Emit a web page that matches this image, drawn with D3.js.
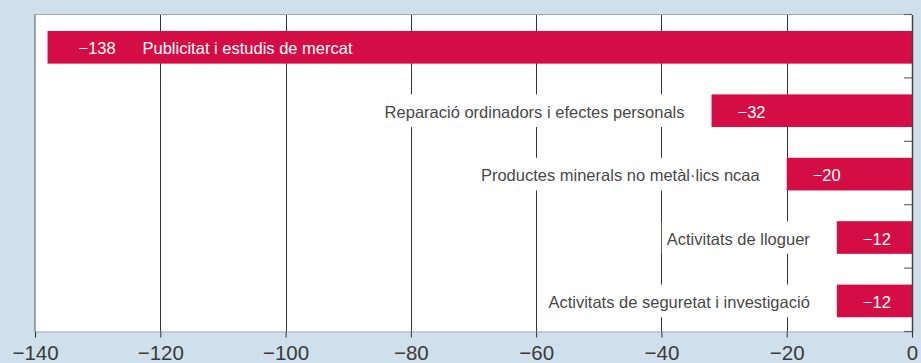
<!DOCTYPE html>
<html><head><meta charset="utf-8">
<script src="https://cdn.jsdelivr.net/npm/d3@7"></script>
<style>
html,body{margin:0;padding:0;background:#cfe0ec;}
svg{display:block;font-family:"Liberation Sans",Arial,sans-serif;}
</style></head>
<body>
<script>
const categories = [
  "Publicitat i estudis de mercat",
  "Reparació ordinadors i efectes personals",
  "Productes minerals no metàl·lics ncaa",
  "Activitats de lloguer",
  "Activitats de seguretat i investigació"
];
const values = [-138, -32, -20, -12, -12];
const tickValues = [-140, -120, -100, -80, -60, -40, -20, 0];

const W = 921, H = 363;
const margin = {left: 35, right: 9, top: 14.5, bottom: 31.5};
const svg = d3.select("body").append("svg").attr("width", W).attr("height", H);
svg.append("rect").attr("width", W).attr("height", H).attr("fill", "#cfe0ec");

const x = d3.scaleLinear().domain([-140, 0]).range([margin.left, W - margin.right]);
const y = d3.scaleBand().domain(categories).range([margin.top, H - margin.bottom]);
const bw = y.bandwidth();
const barOff = bw * 0.26, barH = bw * 0.515;

// plot background
svg.append("rect").attr("x", x(-140)).attr("y", margin.top)
  .attr("width", x(0) - x(-140)).attr("height", H - margin.bottom - margin.top)
  .attr("fill", "#fff");

// gridlines
svg.append("g").selectAll("line").data(tickValues.slice(1, -1)).join("line")
  .attr("x1", d => Math.round(x(d)) + 0.5).attr("x2", d => Math.round(x(d)) + 0.5)
  .attr("y1", margin.top).attr("y2", H - margin.bottom)
  .attr("stroke", "#333").attr("stroke-width", 1);

// borders
svg.append("line").attr("x1", x(-140)).attr("x2", x(0)).attr("y1", margin.top).attr("y2", margin.top)
  .attr("stroke", "#a3abb3").attr("stroke-width", 1.2);
svg.append("line").attr("x1", x(-140)).attr("x2", x(-140)).attr("y1", margin.top).attr("y2", H - margin.bottom)
  .attr("stroke", "#6b6f73").attr("stroke-width", 1.2);

// bottom axis
const xAxis = svg.append("g").attr("transform", `translate(0,${H - margin.bottom})`)
  .call(d3.axisBottom(x).tickValues(tickValues).tickSize(6).tickPadding(8)
    .tickFormat(d => d === 0 ? "0" : "\u2212" + Math.abs(d)));
xAxis.select(".domain").attr("stroke", "#a9adb1").attr("stroke-width", 1.2);
xAxis.selectAll(".tick line").attr("stroke", "#333");
xAxis.selectAll(".tick text").attr("font-size", 20.5).attr("fill", "#3a3a3a")
  .attr("font-family", "'Liberation Sans',Arial,sans-serif");

// bars
const rows = categories.map((c, i) => ({c, v: values[i], i}));
svg.append("g").selectAll("rect").data(rows).join("rect")
  .attr("x", d => x(d.v)).attr("width", d => x(0) - x(d.v))
  .attr("y", d => y(d.c) + barOff).attr("height", barH)
  .attr("fill", "#d40e44");

const fmt = v => "\u2212" + Math.abs(v);

// value labels
const lab = svg.append("g").attr("font-size", 16.5);
rows.forEach(d => {
  const cy = y(d.c) + barOff + barH / 2 + 1;
  lab.append("text").attr("x", x(d.v) + (d.i === 0 ? 31 : 26)).attr("y", cy)
    .attr("dominant-baseline", "central").attr("fill", "#fff").text(fmt(d.v));
  if (d.i === 0) {
    lab.append("text").attr("x", x(d.v) + 95).attr("y", cy)
      .attr("dominant-baseline", "central").attr("fill", "#fff").text(d.c);
  } else {
    const t = lab.append("text").attr("x", x(d.v) - 27).attr("y", cy)
      .attr("text-anchor", "end").attr("dominant-baseline", "central")
      .attr("fill", "#484848").text(d.c);
    const bb = t.node().getBBox();
    lab.insert("rect", () => t.node())
      .attr("x", bb.x - 5).attr("width", bb.width + 10)
      .attr("y", y(d.c) + barOff).attr("height", barH).attr("fill", "#fff");
  }
});

// right axis
const yAxis = svg.append("g").attr("transform", `translate(${x(0)},0)`)
  .call(d3.axisRight(y).tickValues([]).tickSize(0));
yAxis.select(".domain").attr("stroke", "#444").attr("stroke-width", 1.5);
const bounds = categories.map(c => y(c)).concat([y(categories[categories.length - 1]) + bw]);
svg.append("g").selectAll("line").data(bounds).join("line")
  .attr("x1", x(0) - 8).attr("x2", x(0)).attr("y1", d => d).attr("y2", d => d)
  .attr("stroke", "#666").attr("stroke-width", 1.2);
</script>
</body></html>
